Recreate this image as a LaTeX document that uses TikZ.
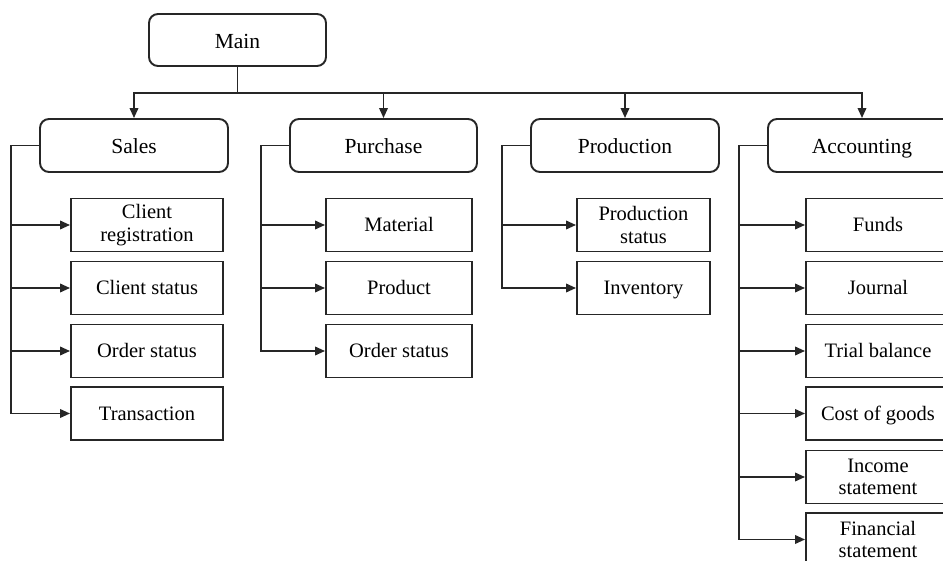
\documentclass[tikz,border=0pt]{standalone}
\usepackage{fontspec}
\setmainfont{Liberation Serif}
\usetikzlibrary{arrows.meta}
\begin{document}
\begin{tikzpicture}[x=1pt,y=-1pt,
  ln/.style={draw=black!85, line width=1.9pt},
  arr/.style={ln, -{Triangle[length=10pt,width=8.5pt]}},
  topbox/.style={draw=black!85, line width=1.9pt, rounded corners=9pt, minimum height=53pt, inner sep=0pt, text height=17pt, text depth=0pt, font=\fontsize{21.5}{23}\selectfont, text=black},
  leaf/.style={draw=black!85, line width=1.9pt, minimum height=53pt, inner sep=0pt, align=center, font=\fontsize{20.5}{22.5}\selectfont, text=black},
  one/.style={text height=14pt, text depth=0pt}
]
\clip (0,0) rectangle (943,561);
\fill[white] (0,0) rectangle (943,561);

% top level
\node[topbox, minimum width=177pt, minimum height=52pt] (main) at (237.5,40) {Main};
\node[topbox, minimum width=188pt] (sales) at (134,145.5) {Sales};
\node[topbox, minimum width=187pt] (purchase) at (383.5,145.5) {Purchase};
\node[topbox, minimum width=188pt] (production) at (625,145.5) {Production};
\node[topbox, minimum width=188pt] (accounting) at (862,145.5) {Accounting};

% sales leaves
\node[leaf, minimum width=152pt] (s1) at (147,225) {Client\\registration};
\node[leaf, one, minimum width=152pt] (s2) at (147,288) {Client status};
\node[leaf, one, minimum width=152pt] (s3) at (147,351) {Order status};
\node[leaf, one, minimum width=152pt] (s4) at (147,413.5) {Transaction};

% purchase leaves
\node[leaf, one, minimum width=146pt] (p1) at (399,225) {Material};
\node[leaf, one, minimum width=146pt] (p2) at (399,288) {Product};
\node[leaf, one, minimum width=146pt] (p3) at (399,351) {Order status};

% production leaves
\node[leaf, minimum width=133pt] (r1) at (643.5,225) {Production\\status};
\node[leaf, one, minimum width=133pt] (r2) at (643.5,288) {Inventory};

% accounting leaves
\node[leaf, one, minimum width=144pt] (a1) at (878,225) {Funds};
\node[leaf, one, minimum width=144pt] (a2) at (878,288) {Journal};
\node[leaf, one, minimum width=144pt] (a3) at (878,351) {Trial balance};
\node[leaf, one, minimum width=144pt] (a4) at (878,413.5) {Cost of goods};
\node[leaf, minimum width=144pt] (a5) at (878,477) {Income\\statement};
\node[leaf, minimum width=144pt] (a6) at (878,539.5) {Financial\\statement};

% main bus
\coordinate (bus) at (237.5,93);
\draw[ln] (main.south) -- (bus);
\draw[arr] (bus) -| (sales.north);
\draw[arr] (bus) -| (purchase.north);
\draw[arr] (bus) -| (production.north);
\draw[arr] (bus) -| (accounting.north);

% brackets
\foreach \p/\leaves in {sales/{s1,s2,s3,s4}, purchase/{p1,p2,p3}, production/{r1,r2}, accounting/{a1,a2,a3,a4,a5,a6}}{
  \foreach \l in \leaves {
    \draw[arr] (\p.west) -- ++(-28,0) |- (\l.west);
  }
}
\end{tikzpicture}
\end{document}
